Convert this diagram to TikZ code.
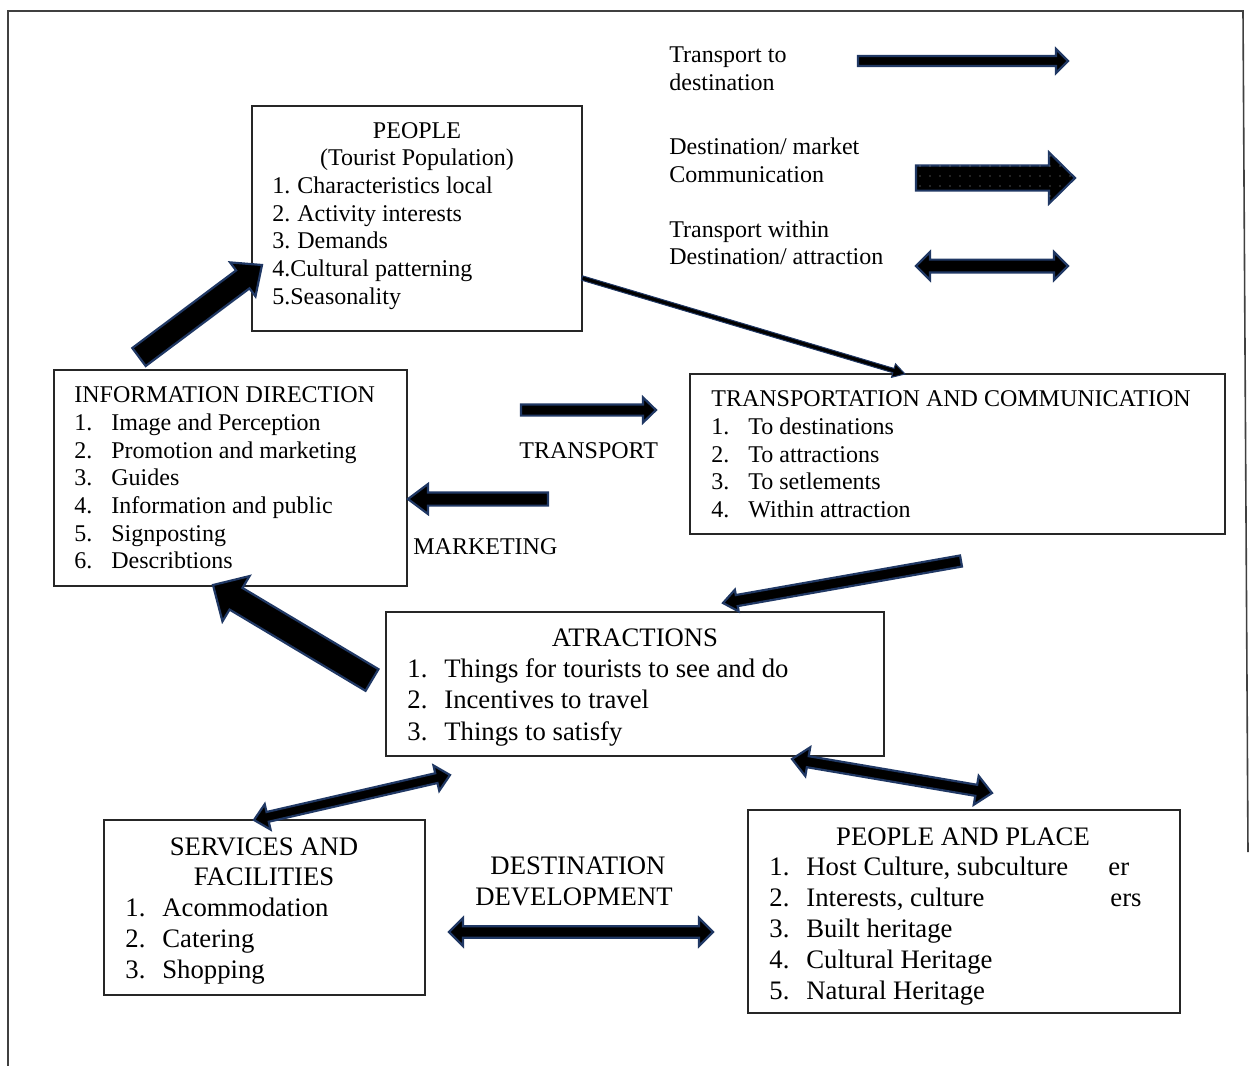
\documentclass[tikz,border=0pt]{standalone}
\usepackage{fontspec}
\setmainfont{Liberation Serif}
\usetikzlibrary{calc,fit,patterns.meta}
\definecolor{navy}{HTML}{203864}
\tikzset{
  box/.style={draw=black!85, line width=0.75pt, inner sep=0pt},
  t/.style={inner sep=0pt, anchor=base west, font=\fontsize{12}{14}\selectfont},
  tc/.style={t, anchor=base},
  T/.style={inner sep=0pt, anchor=base west, font=\fontsize{13.35}{15.5}\selectfont},
  Tc/.style={T, anchor=base},
  blk/.style={fill=black, draw=navy, line width=1.1pt, line join=miter},
  dotfill/.style={postaction={pattern={Dots[distance=5pt,radius=0.35pt]}, pattern color=gray!80}},
}
% single block arrow: [style]{from}{to}{shaft half width}{head half width}{head length}
\newcommand{\sarrow}[6][]{%
  \coordinate (sa-h) at ($(#3)!#6!(#2)$);
  \draw[blk,#1] ($(#2)!#4!90:(#3)$) -- ($(sa-h)!#4!90:(#3)$) -- ($(sa-h)!#5!90:(#3)$) -- (#3)
    -- ($(sa-h)!#5!-90:(#3)$) -- ($(sa-h)!#4!-90:(#3)$) -- ($(#2)!#4!-90:(#3)$) -- cycle;}
% double block arrow
\newcommand{\darrow}[6][]{%
  \coordinate (da-a) at ($(#2)!#6!(#3)$);
  \coordinate (da-b) at ($(#3)!#6!(#2)$);
  \draw[blk,#1] (#2) -- ($(da-a)!#5!90:(#3)$) -- ($(da-a)!#4!90:(#3)$) -- ($(da-b)!#4!90:(#3)$)
    -- ($(da-b)!#5!90:(#3)$) -- (#3) -- ($(da-b)!#5!-90:(#3)$) -- ($(da-b)!#4!-90:(#3)$)
    -- ($(da-a)!#4!-90:(#3)$) -- ($(da-a)!#5!-90:(#3)$) -- cycle;}
\begin{document}
\begin{tikzpicture}[x=0.5pt,y=-0.5pt]
\useasboundingbox (0,0) rectangle (1250,1066);
% frame
\draw[black!75, line width=0.8pt] (8,1066) -- (8,11) -- (1243,11) -- (1248,852);

% boxes
\node[box, fit={(252,106) (582,331)}] (people) {};
\node[box, fit={(54,370) (407,586)}] (info) {};
\node[box, fit={(690,374) (1225,534)}] (transp) {};
\node[box, fit={(386,612) (884,756)}] (attr) {};
\node[box, fit={(104,820) (425,995)}] (serv) {};
\node[box, fit={(748,810) (1180,1013)}] (place) {};

% legend
\node[t] (l1a) at (669,62) {Transport to};
\node[t] (l1b) at (669,90) {destination};
\node[t] (l2a) at (669,154) {Destination/ market};
\node[t] (l2b) at (669,182) {Communication};
\node[t] (l3a) at (669,237) {Transport within};
\node[t] (l3b) at (669,264) {Destination/ attraction};
\coordinate (g1s) at (858,61);  \coordinate (g1e) at (1068,61);
\coordinate (g2s) at (916,178); \coordinate (g2e) at (1075,178);
\coordinate (g3s) at (916,266); \coordinate (g3e) at (1068,266);
\sarrow{g1s}{g1e}{2.5pt}{6pt}{6pt}
\sarrow[dotfill]{g2s}{g2e}{6.3pt}{12.8pt}{13pt}
\darrow{g3s}{g3e}{3.2pt}{7pt}{7pt}

% PEOPLE
\node[tc] (p0) at (417,138) {PEOPLE};
\node[tc] (p00) at (417,165) {(Tourist Population)};
\node[t] (p1n) at (272,193) {1.}; \node[t] (p1) at (297,193) {Characteristics local};
\node[t] (p2n) at (272,221) {2.}; \node[t] (p2) at (297,221) {Activity interests};
\node[t] (p3n) at (272,248) {3.}; \node[t] (p3) at (297,248) {Demands};
\node[t] (p4) at (272,276) {4.Cultural patterning};
\node[t] (p5) at (272,304) {5.Seasonality};

% INFORMATION DIRECTION
\node[t] (i0) at (74,402) {INFORMATION DIRECTION};
\node[t] (i1n) at (74,430) {1.}; \node[t] (i1) at (111,430) {Image and Perception};
\node[t] (i2n) at (74,458) {2.}; \node[t] (i2) at (111,458) {Promotion and marketing};
\node[t] (i3n) at (74,485) {3.}; \node[t] (i3) at (111,485) {Guides};
\node[t] (i4n) at (74,513) {4.}; \node[t] (i4) at (111,513) {Information and public};
\node[t] (i5n) at (74,541) {5.}; \node[t] (i5) at (111,541) {Signposting};
\node[t] (i6n) at (74,568) {6.}; \node[t] (i6) at (111,568) {Describtions};

% TRANSPORTATION
\node[t] (c0) at (711,406) {TRANSPORTATION AND COMMUNICATION};
\node[t] (c1n) at (711,434) {1.}; \node[t] (c1) at (748,434) {To destinations};
\node[t] (c2n) at (711,462) {2.}; \node[t] (c2) at (748,462) {To attractions};
\node[t] (c3n) at (711,489) {3.}; \node[t] (c3) at (748,489) {To setlements};
\node[t] (c4n) at (711,517) {4.}; \node[t] (c4) at (748,517) {Within attraction};

% free labels
\node[t] (trl) at (519,458) {TRANSPORT};
\node[t] (mkl) at (413,554) {MARKETING};
\node[Tc] (dd1) at (578,874) {DESTINATION};
\node[Tc] (dd2) at (574,905) {DEVELOPMENT};

% ATTRACTIONS
\node[Tc] (a0) at (635,646) {ATRACTIONS};
\node[T] (a1n) at (407,677) {1.}; \node[T] (a1) at (444,677) {Things for tourists to see and do};
\node[T] (a2n) at (407,708) {2.}; \node[T] (a2) at (444,708) {Incentives to travel};
\node[T] (a3n) at (407,740) {3.}; \node[T] (a3) at (444,740) {Things to satisfy};

% SERVICES
\node[Tc] (s0) at (264,855) {SERVICES AND};
\node[Tc] (s00) at (264,885) {FACILITIES};
\node[T] (s1n) at (125,916) {1.}; \node[T] (s1) at (162,916) {Acommodation};
\node[T] (s2n) at (125,947) {2.}; \node[T] (s2) at (162,947) {Catering};
\node[T] (s3n) at (125,978) {3.}; \node[T] (s3) at (162,978) {Shopping};

% PEOPLE AND PLACE
\node[Tc] (h0) at (963,845) {PEOPLE AND PLACE};
\node[T] (h1n) at (769,875) {1.}; \node[T] (h1) at (806,875) {Host Culture, subculture};
\node[T] (h1x) at (1108,875) {er};
\node[T] (h2n) at (769,906) {2.}; \node[T] (h2) at (806,906) {Interests, culture};
\node[T] (h2x) at (1110,906) {ers};
\node[T] (h3n) at (769,937) {3.}; \node[T] (h3) at (806,937) {Built heritage};
\node[T] (h4n) at (769,968) {4.}; \node[T] (h4) at (806,968) {Cultural Heritage};
\node[T] (h5n) at (769,999) {5.}; \node[T] (h5) at (806,999) {Natural Heritage};

% connector arrows
\coordinate (infoOut) at (139,357);   \coordinate (peopleIn) at (262,265);
\coordinate (attrOut) at (372,680);   \coordinate (infoIn) at (213,585);
\coordinate (peopleOut) at (582,278); \coordinate (transpIn) at (905,374);
\coordinate (trS) at (521,410);       \coordinate (trE) at (656,410);
\coordinate (mkS) at (548,499);       \coordinate (mkE) at (408,499);
\coordinate (transpOut) at (961,561); \coordinate (attrIn) at (723,603);
\coordinate (servEnd) at (254,820);   \coordinate (attrL) at (450,775);
\coordinate (attrR) at (792,759);     \coordinate (placeEnd) at (992,793);
\coordinate (ddL) at (449,932);       \coordinate (ddR) at (713,932);

\sarrow{infoOut}{peopleIn}{5.6pt}{10.6pt}{12pt}
\sarrow{attrOut}{infoIn}{6.3pt}{13.2pt}{13.4pt}
\sarrow[line width=0.5pt]{peopleOut}{transpIn}{1.1pt}{3.5pt}{6pt}
\sarrow{trS}{trE}{2.8pt}{6.3pt}{6.5pt}
\sarrow{mkS}{mkE}{3.3pt}{7.5pt}{10pt}
\sarrow{transpOut}{attrIn}{2.8pt}{5.5pt}{7pt}
\darrow{servEnd}{attrL}{2.5pt}{6.5pt}{7pt}
\darrow{attrR}{placeEnd}{2.8pt}{7.3pt}{8pt}
\darrow{ddL}{ddR}{2.9pt}{7pt}{7pt}
\end{tikzpicture}
\end{document}
